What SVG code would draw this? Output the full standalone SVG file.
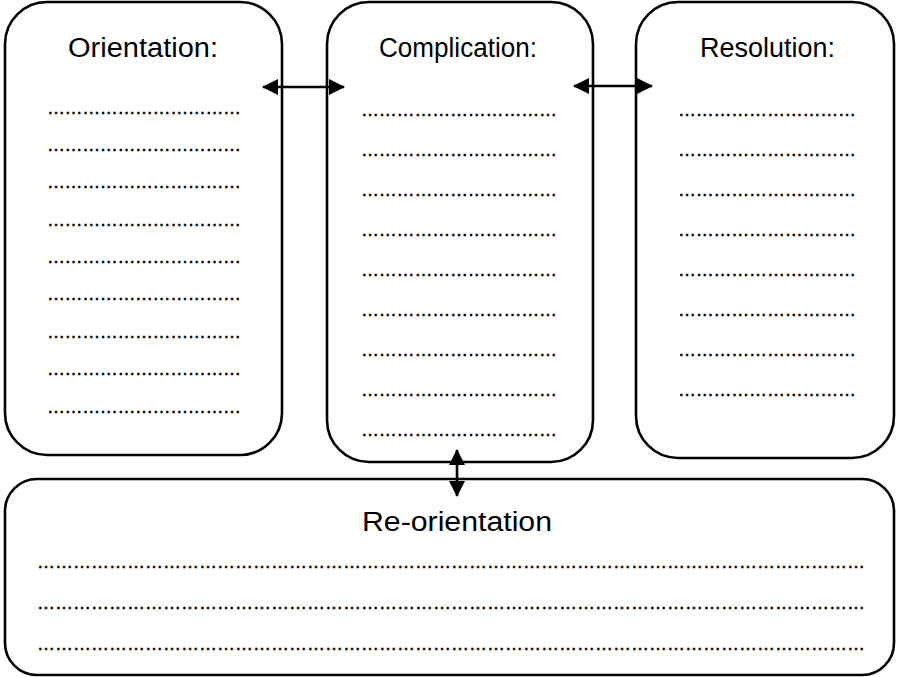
<svg xmlns="http://www.w3.org/2000/svg" width="898" height="677" viewBox="0 0 898 677">
<style>
.box{fill:#fff;stroke:#000;stroke-width:2.6}
.title{font-family:"Liberation Sans","DejaVu Sans",sans-serif;font-size:27px;fill:#000;text-anchor:start}
.dots{font-family:"Liberation Sans","DejaVu Sans",sans-serif;font-size:18px;fill:#000;stroke:#000;stroke-width:0.5}
.conn{stroke:#000;stroke-width:2.6;fill:none}
</style>
<defs>
<marker id="ah" viewBox="0 0 16 16" refX="15" refY="8" markerWidth="16" markerHeight="16" markerUnits="userSpaceOnUse" orient="auto-start-reverse">
<path d="M0,0 L16,8 L0,16 z" fill="#000"/>
</marker>
</defs>
<rect width="898" height="677" fill="#fff"/>
<g id="orientation">
<rect class="box" x="5" y="2" width="277" height="453" rx="42" ry="42"/>
<text class="title" x="68" y="57" textLength="150" lengthAdjust="spacingAndGlyphs">Orientation:</text>
<text class="dots" x="47" y="114" textLength="194" lengthAdjust="spacing">&#8230;&#8230;&#8230;&#8230;&#8230;&#8230;&#8230;&#8230;&#8230;&#8230;&#8230;</text>
<text class="dots" x="47" y="151" textLength="194" lengthAdjust="spacing">&#8230;&#8230;&#8230;&#8230;&#8230;&#8230;&#8230;&#8230;&#8230;&#8230;&#8230;</text>
<text class="dots" x="47" y="188" textLength="194" lengthAdjust="spacing">&#8230;&#8230;&#8230;&#8230;&#8230;&#8230;&#8230;&#8230;&#8230;&#8230;&#8230;</text>
<text class="dots" x="47" y="226" textLength="194" lengthAdjust="spacing">&#8230;&#8230;&#8230;&#8230;&#8230;&#8230;&#8230;&#8230;&#8230;&#8230;&#8230;</text>
<text class="dots" x="47" y="263" textLength="194" lengthAdjust="spacing">&#8230;&#8230;&#8230;&#8230;&#8230;&#8230;&#8230;&#8230;&#8230;&#8230;&#8230;</text>
<text class="dots" x="47" y="300" textLength="194" lengthAdjust="spacing">&#8230;&#8230;&#8230;&#8230;&#8230;&#8230;&#8230;&#8230;&#8230;&#8230;&#8230;</text>
<text class="dots" x="47" y="338" textLength="194" lengthAdjust="spacing">&#8230;&#8230;&#8230;&#8230;&#8230;&#8230;&#8230;&#8230;&#8230;&#8230;&#8230;</text>
<text class="dots" x="47" y="375" textLength="194" lengthAdjust="spacing">&#8230;&#8230;&#8230;&#8230;&#8230;&#8230;&#8230;&#8230;&#8230;&#8230;&#8230;</text>
<text class="dots" x="47" y="413" textLength="194" lengthAdjust="spacing">&#8230;&#8230;&#8230;&#8230;&#8230;&#8230;&#8230;&#8230;&#8230;&#8230;&#8230;</text>
</g>
<g id="complication">
<rect class="box" x="327" y="2" width="266" height="460" rx="42" ry="42"/>
<text class="title" x="379" y="57" textLength="158" lengthAdjust="spacingAndGlyphs">Complication:</text>
<text class="dots" x="361" y="116" textLength="196" lengthAdjust="spacing">&#8230;&#8230;&#8230;&#8230;&#8230;&#8230;&#8230;&#8230;&#8230;&#8230;&#8230;</text>
<text class="dots" x="361" y="156" textLength="196" lengthAdjust="spacing">&#8230;&#8230;&#8230;&#8230;&#8230;&#8230;&#8230;&#8230;&#8230;&#8230;&#8230;</text>
<text class="dots" x="361" y="196" textLength="196" lengthAdjust="spacing">&#8230;&#8230;&#8230;&#8230;&#8230;&#8230;&#8230;&#8230;&#8230;&#8230;&#8230;</text>
<text class="dots" x="361" y="236" textLength="196" lengthAdjust="spacing">&#8230;&#8230;&#8230;&#8230;&#8230;&#8230;&#8230;&#8230;&#8230;&#8230;&#8230;</text>
<text class="dots" x="361" y="276" textLength="196" lengthAdjust="spacing">&#8230;&#8230;&#8230;&#8230;&#8230;&#8230;&#8230;&#8230;&#8230;&#8230;&#8230;</text>
<text class="dots" x="361" y="316" textLength="196" lengthAdjust="spacing">&#8230;&#8230;&#8230;&#8230;&#8230;&#8230;&#8230;&#8230;&#8230;&#8230;&#8230;</text>
<text class="dots" x="361" y="356" textLength="196" lengthAdjust="spacing">&#8230;&#8230;&#8230;&#8230;&#8230;&#8230;&#8230;&#8230;&#8230;&#8230;&#8230;</text>
<text class="dots" x="361" y="396" textLength="196" lengthAdjust="spacing">&#8230;&#8230;&#8230;&#8230;&#8230;&#8230;&#8230;&#8230;&#8230;&#8230;&#8230;</text>
<text class="dots" x="361" y="436" textLength="196" lengthAdjust="spacing">&#8230;&#8230;&#8230;&#8230;&#8230;&#8230;&#8230;&#8230;&#8230;&#8230;&#8230;</text>
</g>
<g id="resolution">
<rect class="box" x="636" y="2" width="258" height="456" rx="42" ry="42"/>
<text class="title" x="700" y="57" textLength="135" lengthAdjust="spacingAndGlyphs">Resolution:</text>
<text class="dots" x="678" y="116" textLength="178" lengthAdjust="spacing">&#8230;&#8230;&#8230;&#8230;&#8230;&#8230;&#8230;&#8230;&#8230;&#8230;</text>
<text class="dots" x="678" y="156" textLength="178" lengthAdjust="spacing">&#8230;&#8230;&#8230;&#8230;&#8230;&#8230;&#8230;&#8230;&#8230;&#8230;</text>
<text class="dots" x="678" y="196" textLength="178" lengthAdjust="spacing">&#8230;&#8230;&#8230;&#8230;&#8230;&#8230;&#8230;&#8230;&#8230;&#8230;</text>
<text class="dots" x="678" y="236" textLength="178" lengthAdjust="spacing">&#8230;&#8230;&#8230;&#8230;&#8230;&#8230;&#8230;&#8230;&#8230;&#8230;</text>
<text class="dots" x="678" y="276" textLength="178" lengthAdjust="spacing">&#8230;&#8230;&#8230;&#8230;&#8230;&#8230;&#8230;&#8230;&#8230;&#8230;</text>
<text class="dots" x="678" y="316" textLength="178" lengthAdjust="spacing">&#8230;&#8230;&#8230;&#8230;&#8230;&#8230;&#8230;&#8230;&#8230;&#8230;</text>
<text class="dots" x="678" y="356" textLength="178" lengthAdjust="spacing">&#8230;&#8230;&#8230;&#8230;&#8230;&#8230;&#8230;&#8230;&#8230;&#8230;</text>
<text class="dots" x="678" y="396" textLength="178" lengthAdjust="spacing">&#8230;&#8230;&#8230;&#8230;&#8230;&#8230;&#8230;&#8230;&#8230;&#8230;</text>
</g>
<g id="reorientation">
<rect class="box" x="5" y="479" width="889" height="196" rx="32" ry="32"/>
<text class="title" x="362" y="531" textLength="190" lengthAdjust="spacingAndGlyphs">Re-orientation</text>
<text class="dots" x="37" y="568" textLength="828" lengthAdjust="spacing">&#8230;&#8230;&#8230;&#8230;&#8230;&#8230;&#8230;&#8230;&#8230;&#8230;&#8230;&#8230;&#8230;&#8230;&#8230;&#8230;&#8230;&#8230;&#8230;&#8230;&#8230;&#8230;&#8230;&#8230;&#8230;&#8230;&#8230;&#8230;&#8230;&#8230;&#8230;&#8230;&#8230;&#8230;&#8230;&#8230;&#8230;&#8230;&#8230;&#8230;&#8230;&#8230;&#8230;&#8230;&#8230;&#8230;</text>
<text class="dots" x="37" y="609" textLength="828" lengthAdjust="spacing">&#8230;&#8230;&#8230;&#8230;&#8230;&#8230;&#8230;&#8230;&#8230;&#8230;&#8230;&#8230;&#8230;&#8230;&#8230;&#8230;&#8230;&#8230;&#8230;&#8230;&#8230;&#8230;&#8230;&#8230;&#8230;&#8230;&#8230;&#8230;&#8230;&#8230;&#8230;&#8230;&#8230;&#8230;&#8230;&#8230;&#8230;&#8230;&#8230;&#8230;&#8230;&#8230;&#8230;&#8230;&#8230;&#8230;</text>
<text class="dots" x="37" y="650" textLength="828" lengthAdjust="spacing">&#8230;&#8230;&#8230;&#8230;&#8230;&#8230;&#8230;&#8230;&#8230;&#8230;&#8230;&#8230;&#8230;&#8230;&#8230;&#8230;&#8230;&#8230;&#8230;&#8230;&#8230;&#8230;&#8230;&#8230;&#8230;&#8230;&#8230;&#8230;&#8230;&#8230;&#8230;&#8230;&#8230;&#8230;&#8230;&#8230;&#8230;&#8230;&#8230;&#8230;&#8230;&#8230;&#8230;&#8230;&#8230;&#8230;</text>
</g>
<g id="connectors">
<line class="conn" x1="263" y1="87" x2="344" y2="87" marker-start="url(#ah)" marker-end="url(#ah)"/>
<line class="conn" x1="574" y1="86" x2="652" y2="86" marker-start="url(#ah)" marker-end="url(#ah)"/>
<line class="conn" x1="457" y1="450" x2="457" y2="496" marker-start="url(#ah)" marker-end="url(#ah)"/>
</g>
</svg>
